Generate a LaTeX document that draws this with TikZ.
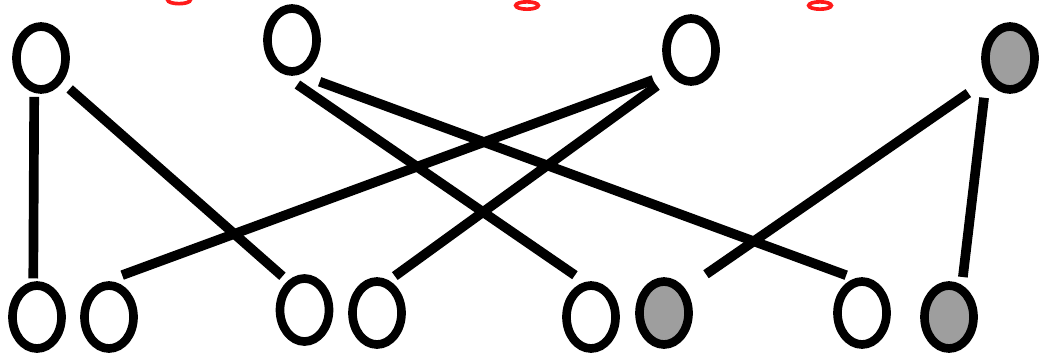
\documentclass[tikz,border=0pt]{standalone}
\usetikzlibrary{shapes.geometric}
\definecolor{hitF}{HTML}{9E9E9E}
\definecolor{tagD}{HTML}{FF1A1A}
\tikzset{
  vert/.style={ellipse, draw=black, line width=2.6mm, minimum width=1.47cm, minimum height=1.89cm,
               inner sep=0pt, outer sep=1.3mm},
  hit/.style={vert, fill=hitF},
  tag/.style={ellipse, draw=tagD, line width=1.1mm, minimum width=0.68cm, minimum height=0.22cm, inner sep=0pt},
  link/.style={draw=black, line width=2.9mm},
}
\begin{document}
\begin{tikzpicture}[x=0.03cm, y=-0.03cm]
\useasboundingbox (0,0) rectangle (1040,354);
\node[tag] (tagA) at (179,0) {};
\node[tag] (tagB) at (527,5.5) {};
\node[tag] (tagC) at (820,5.5) {};
\node[vert] (top1) at (41,58) {};
\node[vert] (top2) at (292,40) {};
\node[vert] (top3) at (691,50) {};
\node[hit] (top4) at (1010,58) {};
\node[vert] (bot1) at (37,317) {};
\node[vert] (bot2) at (109,317) {};
\node[vert] (bot3) at (304.5,310) {};
\node[vert] (bot4) at (377,313) {};
\node[vert] (bot5) at (591,317) {};
\node[hit] (bot6) at (664,313) {};
\node[vert] (bot7) at (862,313) {};
\node[hit] (bot8) at (949,317) {};
\draw[link, shorten <=1.2mm, shorten >=0.9mm] (top1.259) -- (bot1.96);
\draw[link, shorten <=3mm, shorten >=2.1mm] (top1.311) -- (bot3.120);
\draw[link, shorten <=6.3mm, shorten >=3.6mm] (top2.250) -- (bot5.100);
\draw[link, shorten <=6.3mm, shorten >=2.7mm] (top2.283) -- (bot7.102);
\draw[link, shorten <=5.2mm, shorten >=5.6mm] (top3.228) -- (bot2.97);
\draw[link, shorten <=5.2mm, shorten >=2.2mm] (top3.232) -- (bot4.70);
\draw[link, shorten <=6.9mm, shorten >=7.6mm] (top4.224) -- (bot6.49);
\draw[link, shorten <=5.8mm, shorten >=2.4mm] (top4.221) -- (bot8.68);
\end{tikzpicture}
\end{document}
